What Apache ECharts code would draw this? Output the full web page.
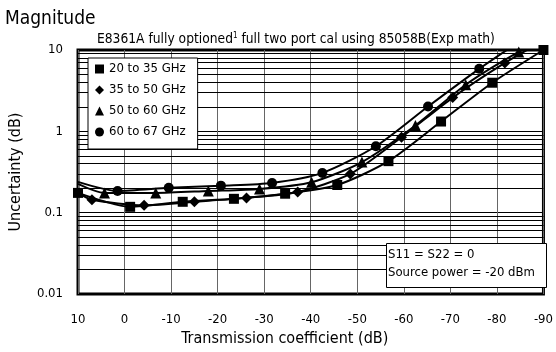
<!DOCTYPE html>
<html><head><meta charset="utf-8">
<script src="https://cdn.jsdelivr.net/npm/echarts@6/dist/echarts.min.js"></script>
<style>html,body{margin:0;padding:0;background:#fff}#c{width:556px;height:352px}</style>
</head><body><div id="c"></div>
<script>
const FONT = "'Liberation Sans Narrow','DejaVu Sans Condensed',sans-serif";
const seriesNames = ['20 to 35 GHz', '35 to 50 GHz', '50 to 60 GHz', '60 to 67 GHz'];
const symbols = ['rect', 'diamond', 'triangle', 'circle'];
const symbolSizes = [10, 11, 11, 10];
// marked points: transmission coefficient (dB) and uncertainty (dB)
const sqX = [10, -1.2, -12.5, -23.5, -34.5, -45.7, -56.7, -68.0, -79.0, -90];
const sqY = [0.175, 0.118, 0.136, 0.148, 0.171, 0.219, 0.43, 1.32, 3.96, 10];
const diX = [7.0, -4.2, -15.0, -26.2, -37.2, -48.5, -59.5, -70.5, -81.7];
const diY = [0.144, 0.123, 0.136, 0.152, 0.18, 0.299, 0.845, 2.6, 6.93];
const trX = [4.3, -6.7, -18.0, -29.0, -40.2, -51.0, -62.5, -73.3, -84.7];
const trY = [0.175, 0.175, 0.185, 0.196, 0.237, 0.419, 1.18, 3.74, 9.46];
const ciX = [1.5, -9.5, -20.7, -31.7, -42.5, -54.0, -65.2, -76.2];
const ciY = [0.185, 0.202, 0.215, 0.232, 0.308, 0.656, 2.02, 5.87];
// unmarked curve end points [start, end]
const sqEnds = [null, null];
const diEnds = [[10, 0.175], [-90, 13]];
const trEnds = [[10, 0.226], [-90, 13]];
const ciEnds = [[10, 0.239], [-90, 20]];
const xTicks = { min: -90, max: 10, step: 10 };
const yTicks = { min: 0.01, max: 10 };
const minorGrid = [0.02,0.03,0.04,0.05,0.06,0.07,0.08,0.09,0.2,0.3,0.4,0.5,0.6,0.7,0.8,0.9,2,3,4,5,6,7,8,9];
const noteLines = ['S11 = S22 = 0', 'Source power = -20 dBm'];

function build(xs, ys, ends) {
  const d = [];
  if (ends[0]) d.push({ value: ends[0], symbol: 'none' });
  xs.forEach((x, i) => d.push({ value: [x, ys[i]] }));
  if (ends[1]) d.push({ value: ends[1], symbol: 'none' });
  return d;
}
const allData = [build(sqX, sqY, sqEnds), build(diX, diY, diEnds), build(trX, trY, trEnds), build(ciX, ciY, ciEnds)];

const chart = echarts.init(document.getElementById('c'), null, { renderer: 'canvas' });
const series = allData.map((d, i) => ({
  name: seriesNames[i], type: 'line', data: d, symbol: symbols[i], symbolSize: symbolSizes[i],
  smooth: 0.25, clip: true, z: 5 + i,
  lineStyle: { color: '#000', width: 2 }, itemStyle: { color: '#000' }
}));
series.push({
  type: 'line', data: [], silent: true,
  markLine: { silent: true, symbol: 'none', label: { show: false },
    lineStyle: { color: '#000', width: 1, type: 'solid' },
    data: minorGrid.map(v => ({ yAxis: v })) }
});
chart.setOption({
  animation: false,
  backgroundColor: '#fff',
  textStyle: { fontFamily: FONT, color: '#000' },
  title: [
    { text: 'Magnitude', left: 0, top: 5, textStyle: { fontFamily: FONT, fontSize: 19, fontWeight: 'normal', color: '#000' } },
    { text: 'E8361A fully optioned{sup|1} full two port cal using 85058B(Exp math)', left: 92, top: 27,
      textStyle: { fontFamily: FONT, fontSize: 13.7, fontWeight: 'normal', color: '#000', lineHeight: 15,
        rich: { sup: { fontFamily: FONT, fontSize: 8, verticalAlign: 'top', lineHeight: 15, color: '#000' } } } }
  ],
  grid: { left: 75, right: 9, top: 50, bottom: 56, show: true, borderColor: '#000', borderWidth: 3, backgroundColor: '#fff' },
  legend: {
    orient: 'vertical', left: 88, top: 58,
    data: seriesNames.map((n, i) => ({ name: n, icon: symbols[i] })),
    itemWidth: 9, itemHeight: 9, itemGap: 7,
    padding: [4, 12, 10, 7],
    backgroundColor: '#fff', borderColor: '#000', borderWidth: 1, borderRadius: 0,
    textStyle: { fontFamily: FONT, fontSize: 13, color: '#000', lineHeight: 14 },
    itemStyle: { color: '#000' }, selectedMode: false, z: 20
  },
  xAxis: {
    type: 'value', inverse: true, min: xTicks.min, max: xTicks.max, interval: xTicks.step,
    name: 'Transmission coefficient (dB)', nameLocation: 'middle', nameGap: 37,
    nameTextStyle: { fontFamily: FONT, fontSize: 16, color: '#000', padding: [0, 52, 0, 0] },
    axisLine: { show: false }, axisTick: { show: false },
    axisLabel: { margin: 19, fontFamily: FONT, fontSize: 13, color: '#000' },
    splitLine: { show: true, lineStyle: { color: '#666', width: 1 } }
  },
  yAxis: {
    type: 'log', logBase: 10, min: yTicks.min, max: yTicks.max,
    name: 'Uncertainty (dB)', nameLocation: 'middle', nameGap: 54,
    nameTextStyle: { fontFamily: FONT, fontSize: 16, color: '#000' },
    axisLine: { show: false }, axisTick: { show: false },
    axisLabel: { margin: 15, fontFamily: FONT, fontSize: 13, color: '#000' },
    splitLine: { show: true, lineStyle: { color: '#000', width: 1 } }
  },
  graphic: [
    { type: 'rect', left: 386, top: 243, shape: { width: 160, height: 44 }, style: { fill: '#fff', stroke: '#000', lineWidth: 1 }, z: 20 },
    { type: 'text', left: 388, top: 248, style: { text: noteLines[0], font: '13px ' + FONT, fill: '#000' }, z: 21 },
    { type: 'text', left: 388, top: 266, style: { text: noteLines[1], font: '13px ' + FONT, fill: '#000' }, z: 21 }
  ],
  series: series
});
</script></body></html>
